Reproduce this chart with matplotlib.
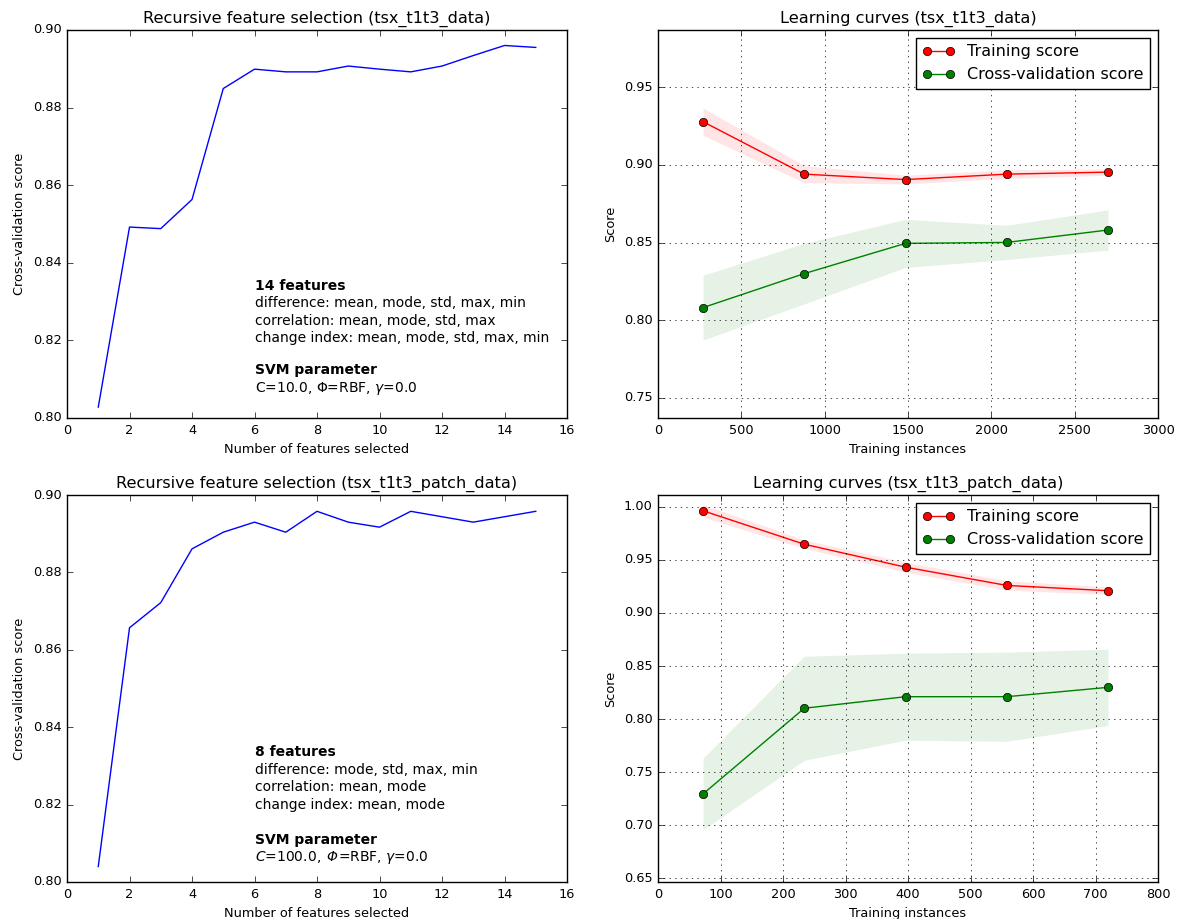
import numpy as np
import matplotlib
matplotlib.use('Agg')
import matplotlib.pyplot as plt
from matplotlib.transforms import blended_transform_factory
from matplotlib.offsetbox import TextArea, HPacker, AnnotationBbox, DrawingArea

# classic look (old matplotlib defaults)
plt.style.use('classic')
plt.rcParams['font.size'] = 9.3
plt.rcParams['axes.titlesize'] = 11.6
plt.rcParams['legend.fontsize'] = 11.5
plt.rcParams['mathtext.fontset'] = 'dejavusans'
plt.rcParams['figure.facecolor'] = 'white'
plt.rcParams['savefig.facecolor'] = 'white'

#   Recursive feature selection scores
n_features = [1, 2, 3, 4, 5, 6, 7, 8, 9, 10, 11, 12, 13, 14, 15]
rfe_data = [0.8028, 0.8492, 0.8488, 0.8563, 0.8849, 0.8899, 0.8892, 0.8892,
            0.8907, 0.8899, 0.8892, 0.8907, 0.8934, 0.8960, 0.8955]
rfe_patch = [0.8040, 0.8657, 0.8722, 0.8861, 0.8904, 0.8930, 0.8904, 0.8958,
             0.8930, 0.8917, 0.8958, 0.8944, 0.8930, 0.8944, 0.8958]

#   Learning curves (tsx_t1t3_data)
sizes_data = [270, 877, 1485, 2092, 2700]
train_mean_data = [0.9279, 0.8941, 0.8906, 0.8941, 0.8954]
train_std_data = [0.0088, 0.0055, 0.0028, 0.0028, 0.0020]
test_mean_data = [0.8081, 0.8300, 0.8495, 0.8501, 0.8581]
test_std_data = [0.0209, 0.0195, 0.0155, 0.0110, 0.0130]

#   Learning curves (tsx_t1t3_patch_data)
sizes_patch = [72, 234, 396, 558, 720]
train_mean_patch = [0.9962, 0.9647, 0.9431, 0.9259, 0.9209]
train_std_patch = [0.0060, 0.0040, 0.0047, 0.0044, 0.0035]
test_mean_patch = [0.7295, 0.8102, 0.8211, 0.8211, 0.8299]
test_std_patch = [0.0337, 0.0490, 0.0410, 0.0420, 0.0360]

#   Annotation text: (line, weight) or a list of (piece, style) for mixed lines
notes_data = [("14 features", 'bold'),
              ("difference: mean, mode, std, max, min", 'normal'),
              ("correlation: mean, mode, std, max", 'normal'),
              ("change index: mean, mode, std, max, min", 'normal'),
              ("SVM parameter", 'bold'),
              ("C=10.0, \u03a6=RBF, $\\gamma$=0.0", 'normal')]
notes_patch = [("8 features", 'bold'),
               ("difference: mode, std, max, min", 'normal'),
               ("correlation: mean, mode", 'normal'),
               ("change index: mean, mode", 'normal'),
               ("SVM parameter", 'bold'),
               [("$C$=100.0,", 'normal'), (" \u03a6", 'italic'), ("=RBF, $\\gamma$=0.0", 'normal')]]

fig = plt.figure(figsize=(11.82, 9.19), dpi=100)

ax1 = fig.add_axes([0.0567, 0.5452, 0.423, 0.4222])
ax2 = fig.add_axes([0.5567, 0.5452, 0.423, 0.4222])
ax3 = fig.add_axes([0.0567, 0.0403, 0.423, 0.421])
ax4 = fig.add_axes([0.5567, 0.0403, 0.423, 0.421])

NOTE_SIZE = 10


def plot_rfe(ax, scores, title, notes, ys):
    ax.plot(n_features, scores, 'b-')
    ax.set_xlim(0, 16)
    ax.set_ylim(0.80, 0.90)
    ax.set_title(title)
    ax.set_xlabel('Number of features selected')
    ax.set_ylabel('Cross-validation score')
    trans = blended_transform_factory(ax.transData, ax.transAxes)
    for note, y in zip(notes, ys):
        if isinstance(note, tuple):
            ax.text(6, y, note[0], va='center', ha='left', fontsize=NOTE_SIZE,
                    fontweight=note[1], transform=trans)
        else:
            # mixed upright / italic pieces in one line
            parts = []
            for s, st in note:
                if s.startswith(' '):
                    parts.append(DrawingArea(4.4, 1))   # a space (packers drop blanks)
                    s = s.lstrip()
                parts.append(TextArea(s, textprops=dict(fontsize=NOTE_SIZE, style=st)))
            box = HPacker(children=parts, align='baseline', pad=0, sep=0)
            ab = AnnotationBbox(box, (6, y), xycoords=trans, box_alignment=(0, 0.5),
                                frameon=False, pad=0)
            ax.add_artist(ab)


def plot_lc(ax, sizes, tr_m, tr_s, te_m, te_s, title, ylim, xlim):
    tr_m = np.array(tr_m)
    tr_s = np.array(tr_s)
    te_m = np.array(te_m)
    te_s = np.array(te_s)
    ax.grid(True)
    ax.fill_between(sizes, tr_m - tr_s, tr_m + tr_s, alpha=0.1, color='r', linewidth=0)
    ax.fill_between(sizes, te_m - te_s, te_m + te_s, alpha=0.1, color='g', linewidth=0)
    ax.plot(sizes, tr_m, 'o-', color='r', label='Training score')
    ax.plot(sizes, te_m, 'o-', color='g', label='Cross-validation score')
    ax.set_xlim(xlim)
    ax.set_ylim(ylim)
    ax.set_title(title)
    ax.set_xlabel('Training instances')
    ax.set_ylabel('Score')
    ax.legend(loc='upper right')


plot_rfe(ax1, rfe_data, 'Recursive feature selection (tsx_t1t3_data)', notes_data,
         [0.340, 0.296, 0.250, 0.206, 0.124, 0.077])
plot_rfe(ax3, rfe_patch, 'Recursive feature selection (tsx_t1t3_patch_data)', notes_patch,
         [0.336, 0.289, 0.245, 0.199, 0.109, 0.062])

plot_lc(ax2, sizes_data, train_mean_data, train_std_data, test_mean_data, test_std_data,
        'Learning curves (tsx_t1t3_data)', (0.737, 0.987), (0, 3000))
plot_lc(ax4, sizes_patch, train_mean_patch, train_std_patch, test_mean_patch, test_std_patch,
        'Learning curves (tsx_t1t3_patch_data)', (0.6466, 1.011), (0, 800))

fig.savefig('out.png', dpi=100)
